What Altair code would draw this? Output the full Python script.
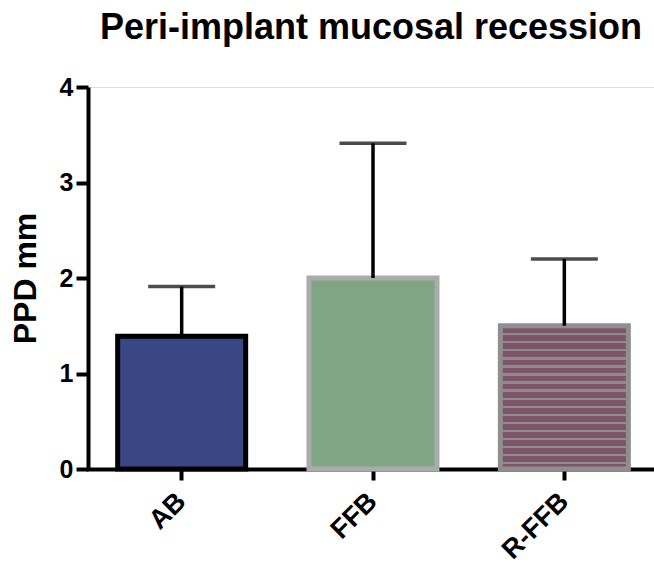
import altair as alt
import pandas as pd

categories = ["AB", "FFB", "R-FFB"]
means = [1.39, 2.0, 1.5]
sds = [0.52, 1.41, 0.70]

df = pd.DataFrame({"group": categories, "mean": means, "sd": sds})
df["upper"] = df["mean"] + df["sd"]

FONT = "Liberation Sans"

# horizontal stripe gradient for R-FFB
maroon = "#7E5468"
grey = "#8C8C8C"
stops = []
h = 142.5
y0 = 8.5
period = 8.0
lw = 2.2
stops.append(alt.GradientStop(color=maroon, offset=0))
k = 0
while True:
    a = (y0 + period * k - lw / 2) / h
    b = (y0 + period * k + lw / 2) / h
    if b >= 1:
        break
    stops += [alt.GradientStop(color=maroon, offset=a), alt.GradientStop(color=grey, offset=a),
              alt.GradientStop(color=grey, offset=b), alt.GradientStop(color=maroon, offset=b)]
    k += 1
stops.append(alt.GradientStop(color=maroon, offset=1))
stripe = alt.Gradient(gradient="linear", stops=stops, x1=0, x2=0, y1=0, y2=1)

xenc = alt.X("group:N", sort=categories,
             scale=alt.Scale(range=[-2, 572], paddingInner=0, paddingOuter=0),
             axis=alt.Axis(title=None, labelAngle=-45, labelAlign="right",
                           labelBaseline="middle", labelPadding=17, tickSize=11,
                           labelFontSize=27))
yaxis = alt.Axis(title="PPD mm", values=[0, 1, 2, 3, 4], format="d",
                 labelPadding=3, titlePadding=17, tickSize=12, labelFontSize=25)
yenc = alt.Y("mean:Q", scale=alt.Scale(domain=[0, 4], nice=False), axis=yaxis)

base = alt.Chart(df)

bar_ab = base.transform_filter(alt.datum.group == "AB").mark_bar(
    size=128, fill="#3A4785", stroke="black", strokeWidth=5).encode(x=xenc, y=yenc)
bar_ffb = base.transform_filter(alt.datum.group == "FFB").mark_bar(
    size=128, fill="#7FA684", stroke="#ABABAB", strokeWidth=5).encode(x=xenc, y=yenc)
bar_rffb = base.transform_filter(alt.datum.group == "R-FFB").mark_bar(
    size=128, color=stripe, stroke="#8F8F8F", strokeWidth=5).encode(x=xenc, y=yenc)

rule = base.mark_rule(color="black", strokeWidth=3.5).encode(
    x=xenc, y=yenc, y2="upper:Q")
cap = base.mark_tick(color="black", size=67, thickness=3.5).encode(
    x=xenc, y=alt.Y("upper:Q", scale=alt.Scale(domain=[0, 4], nice=False), axis=yaxis))

chart = alt.layer(bar_ab, bar_ffb, bar_rffb, rule, cap).properties(
    width=566, height=382,
    padding={"left": 88, "top": 87, "right": 0, "bottom": 95},
    autosize=alt.AutoSizeParams(type="none"),
    title=alt.TitleParams("Peri-implant mucosal recession", font=FONT, fontSize=36,
                          fontWeight="bold", color="black", anchor="middle",
                          frame="group", baseline="alphabetic", offset=0),
).configure_view(strokeWidth=0, stroke="transparent").configure(background="white").configure_axis(
    grid=False, labelFont=FONT, labelFontWeight="bold",
    labelColor="black", titleFont=FONT, titleFontSize=32, titleFontWeight="bold",
    titleColor="black", domainColor="black", domainWidth=4, tickColor="black",
    tickWidth=4)

chart.save("out.html", embed_options={"renderer": "svg", "actions": False})
